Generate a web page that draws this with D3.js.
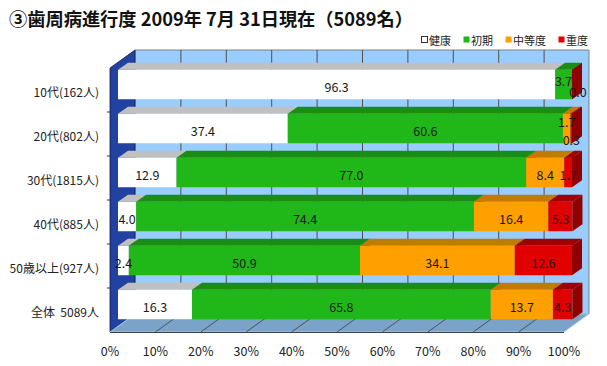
<!DOCTYPE html>
<html>
<head>
<meta charset="utf-8">
<script src="https://cdn.jsdelivr.net/npm/d3@7"></script>
<style>
  html, body { margin: 0; padding: 0; background: #fff; }
  svg { display: block; font-family: "Noto Sans CJK JP", "Noto Sans", sans-serif; }
</style>
</head>
<body>
<div id="chart"></div>
<script>
const title = '③歯周病進行度 2009年 7月 31日現在（5089名）';
const categories = ['10代(162人)', '20代(802人)', '30代(1815人)', '40代(885人)', '50歳以上(927人)', '全体  5089人'];
const seriesNames = ['健康', '初期', '中等度', '重度'];
const healthy = [96.3, 37.4, 12.9, 4.0, 2.4, 16.3];
const early = [3.7, 60.6, 77.0, 74.4, 50.9, 65.8];
const moderate = [null, 1.7, 8.4, 16.4, 34.1, 13.7];
const severe = [0.0, 0.3, 1.7, 5.3, 12.6, 4.3];
const xTicks = [0, 10, 20, 30, 40, 50, 60, 70, 80, 90, 100];

const colors = [
    { front: '#ffffff', top: '#c0c0c0', side: '#a8a8a8' },
    { front: '#20b818', top: '#1a8e10', side: '#178010' },
    { front: '#ffa000', top: '#c47a00', side: '#b06c00' },
    { front: '#e00000', top: '#a00000', side: '#900000' }
];

class Bar3DChart {

    constructor(opts) {
        this.element = opts.element;
        this.width = 607;
        this.height = 366;
        // front plane of the plot and the oblique depth of the walls
        this.front = { left: 110, right: 564, top: 68, bottom: 332 };
        this.wall = { dx: 25, dy: -18 };
        // bars sit a little behind the front plane and have their own depth
        this.barOffset = { dx: 8, dy: -5.5 };
        this.barDepth = { dx: 10, dy: -7 };
        this.draw();
    }

    draw() {
        this.element.innerHTML = '';
        this.svg = d3.select(this.element).append('svg')
            .attr('width', this.width)
            .attr('height', this.height)
            .attr('viewBox', `0 0 ${this.width} ${this.height}`);

        this.createScales();
        this.addWalls();
        this.addBars();
        this.addAxes();
        this.addTitle();
        this.addLegend();
    }

    createScales() {
        this.xScale = d3.scaleLinear()
            .domain([0, 100])
            .range([this.front.left, this.front.right]);

        this.yScale = d3.scaleBand()
            .domain(categories)
            .range([this.front.top, this.front.bottom])
            .paddingInner(0.33)
            .paddingOuter(0.165);

        this.rows = categories.map((c, i) => {
            const values = [healthy[i], early[i], moderate[i], severe[i]];
            let acc = 0;
            const segs = values.map((v, s) => {
                const seg = { series: s, value: v, x0: acc, x1: acc + (v || 0) };
                acc += (v || 0);
                return seg;
            });
            return { category: c, segs: segs };
        });
    }

    addWalls() {
        const f = this.front, w = this.wall;
        const g = this.svg.append('g').attr('class', 'walls');
        const pts = p => p.map(d => d.join(',')).join(' ');

        // back wall
        g.append('polygon')
            .attr('points', pts([[f.left + w.dx, f.top + w.dy], [f.right + w.dx, f.top + w.dy],
                [f.right + w.dx, f.bottom + w.dy], [f.left + w.dx, f.bottom + w.dy]]))
            .attr('fill', '#99ccff')
            .attr('stroke', '#808080')
            .attr('stroke-width', 1);

        g.selectAll('.grid')
            .data(xTicks.slice(1, -1))
            .enter()
            .append('line')
            .attr('class', 'grid')
            .attr('x1', d => this.xScale(d) + w.dx + 0.5)
            .attr('x2', d => this.xScale(d) + w.dx + 0.5)
            .attr('y1', f.top + w.dy)
            .attr('y2', f.bottom + w.dy)
            .attr('stroke', '#505050')
            .attr('stroke-width', 1);

        // left wall
        g.append('polygon')
            .attr('points', pts([[f.left, f.top], [f.left + w.dx, f.top + w.dy],
                [f.left + w.dx, f.bottom + w.dy], [f.left, f.bottom]]))
            .attr('fill', '#2142a0')
            .attr('stroke', '#1a1a40')
            .attr('stroke-width', 0.8);

        // floor
        g.append('polygon')
            .attr('points', pts([[f.left, f.bottom], [f.right, f.bottom],
                [f.right + w.dx, f.bottom + w.dy], [f.left + w.dx, f.bottom + w.dy]]))
            .attr('fill', '#7ba2c9')
            .attr('stroke', '#b8d8f0')
            .attr('stroke-width', 0.8);

        g.selectAll('.floorgrid')
            .data(xTicks.slice(1, -1))
            .enter()
            .append('line')
            .attr('class', 'floorgrid')
            .attr('x1', d => this.xScale(d))
            .attr('x2', d => this.xScale(d) + w.dx)
            .attr('y1', f.bottom)
            .attr('y2', f.bottom + w.dy)
            .attr('stroke', '#404040')
            .attr('stroke-width', 0.8);

        g.append('line')
            .attr('x1', f.left).attr('x2', f.right)
            .attr('y1', f.bottom + 0.5).attr('y2', f.bottom + 0.5)
            .attr('stroke', '#404040');
    }

    addBars() {
        const o = this.barOffset, d = this.barDepth;
        const x = v => this.xScale(v) + o.dx;
        const bw = this.yScale.bandwidth();
        const g = this.svg.append('g').attr('class', 'bars');

        this.rows.forEach(row => {
            const yt = this.yScale(row.category) + o.dy;
            const yb = yt + bw;
            const rg = g.append('g');
            row.segs.filter(s => s.value !== null).forEach(s => {
                const x0 = x(s.x0), x1 = x(s.x1);
                const c = colors[s.series];
                if (x1 > x0) {
                    rg.append('polygon')
                        .attr('points', `${x0},${yt} ${x1},${yt} ${x1 + d.dx},${yt + d.dy} ${x0 + d.dx},${yt + d.dy}`)
                        .attr('fill', c.top);
                    rg.append('rect')
                        .attr('x', x0).attr('y', yt)
                        .attr('width', x1 - x0).attr('height', bw)
                        .attr('fill', c.front);
                }
                rg.append('polygon')
                    .attr('points', `${x1},${yt} ${x1 + d.dx},${yt + d.dy} ${x1 + d.dx},${yb + d.dy} ${x1},${yb}`)
                    .attr('fill', c.side);
            });

            // labels, staggered where two narrow segments sit side by side
            const labelled = row.segs.filter(s => s.value !== null);
            labelled.forEach((s, i) => {
                const narrow = s.value < 4;
                const prev = labelled[i - 1], next = labelled[i + 1];
                s.dy = 0;
                if (narrow && next && next.value < 4) s.dy = next.value === 0 ? -6 : -9;
                else if (narrow && prev && prev.value < 4) s.dy = s.value === 0 ? 5 : 9;
            });

            rg.selectAll('.label')
                .data(labelled)
                .enter()
                .append('text')
                .attr('class', 'label')
                .attr('x', s => (x(s.x0) + x(s.x1)) / 2 + (s.value === 0 ? 6 : 0))
                .attr('y', s => yt + bw / 2 + 1.5 + s.dy)
                .attr('text-anchor', 'middle')
                .attr('dominant-baseline', 'central')
                .attr('font-size', '12.5px')
                .attr('fill', '#1a1a1a')
                .text(s => s.value.toFixed(1));
        });
    }

    addAxes() {
        const f = this.front;
        const g = this.svg.append('g').attr('class', 'axes');

        g.selectAll('.xlabel')
            .data(xTicks)
            .enter()
            .append('text')
            .attr('class', 'xlabel')
            .attr('x', d => this.xScale(d))
            .attr('y', 350)
            .attr('text-anchor', 'middle')
            .attr('dominant-baseline', 'central')
            .attr('font-size', '12.5px')
            .attr('fill', '#222')
            .text(d => d + '%');

        g.selectAll('.ylabel')
            .data(categories)
            .enter()
            .append('text')
            .attr('class', 'ylabel')
            .attr('x', 99)
            .attr('y', d => this.yScale(d) + this.yScale.bandwidth() / 2 + 1.5)
            .attr('text-anchor', 'end')
            .attr('dominant-baseline', 'central')
            .attr('font-size', '12px')
            .attr('fill', '#222')
            .style('white-space', 'pre')
            .text(d => d);

        const step = this.yScale.step();
        g.selectAll('.ytick')
            .data(d3.range(1, categories.length))
            .enter()
            .append('line')
            .attr('class', 'ytick')
            .attr('x1', f.left - 3).attr('x2', f.left)
            .attr('y1', i => f.top + i * step)
            .attr('y2', i => f.top + i * step)
            .attr('stroke', '#333');
    }

    addTitle() {
        this.svg.append('text')
            .attr('x', 9)
            .attr('y', 26)
            .attr('font-size', '18px')
            .attr('font-weight', 'bold')
            .attr('fill', '#111')
            .attr('textLength', 404)
            .attr('lengthAdjust', 'spacingAndGlyphs')
            .text(title);
    }

    addLegend() {
        const g = this.svg.append('g').attr('class', 'legend');
        let cursor = 421;
        seriesNames.forEach((name, i) => {
            g.append('rect')
                .attr('x', cursor + 0.5).attr('y', 36.5)
                .attr('width', 6).attr('height', 6)
                .attr('fill', i === 0 ? '#fff' : colors[i].front)
                .attr('stroke', i === 0 ? '#333' : 'none');
            const t = g.append('text')
                .attr('x', cursor + 8)
                .attr('y', 40)
                .attr('dominant-baseline', 'central')
                .attr('font-size', '11px')
                .attr('fill', '#222')
                .text(name);
            cursor += 8 + t.node().getComputedTextLength() + 12;
        });
    }
}

new Bar3DChart({ element: document.getElementById('chart') });
</script>
</body>
</html>
